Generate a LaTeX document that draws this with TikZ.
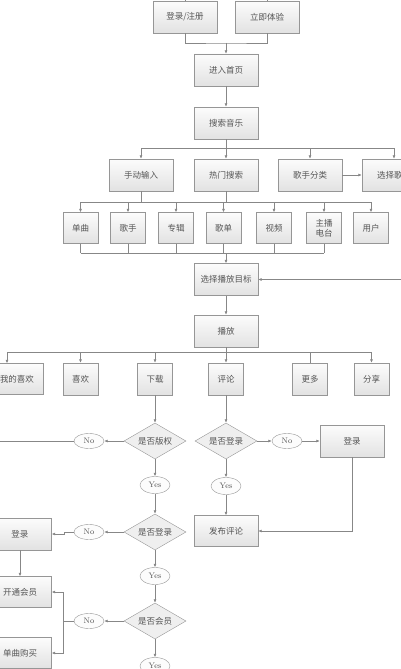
\documentclass[tikz,border=0pt]{standalone}
\usepackage{fontspec}
\usepackage{tikz}
\usetikzlibrary{arrows.meta,positioning,calc,shapes.geometric}
\newfontfamily\cjk{Noto Sans CJK SC}
\definecolor{linegray}{RGB}{135,135,135}
\definecolor{boxedge}{RGB}{150,150,150}
\definecolor{boxtop}{RGB}{252,252,252}
\definecolor{boxbottom}{RGB}{226,226,226}
\definecolor{txtgray}{RGB}{85,85,85}
\tikzset{
  flowbox/.style={draw=boxedge,top color=boxtop,bottom color=boxbottom,minimum width=64pt,minimum height=32pt,inner sep=1pt,align=center,font=\cjk\fontsize{8.5}{10}\selectfont,text=txtgray},
  smallbox/.style={flowbox,minimum width=35pt,minimum height=31pt},
  choice/.style={draw=boxedge,shape=diamond,fill=boxbottom!55,aspect=2,minimum width=62pt,minimum height=36pt,inner sep=0pt,font=\cjk\fontsize{8.5}{10}\selectfont,text=txtgray},
  answer/.style={draw=boxedge,ellipse,fill=boxtop,minimum width=30pt,minimum height=15pt,inner sep=0pt,font=\fontsize{8}{9}\selectfont,text=txtgray},
  link/.style={draw=linegray,line width=0.6pt},
  arr/.style={link,-{Latex[length=3.5pt,width=3pt]}}
}
\begin{document}
\begin{tikzpicture}[x=1pt,y=-1pt]
\useasboundingbox (0,0) rectangle (400,669);
\node[flowbox] (reg) at (185,17) {登录/注册};
\node[flowbox] (try) at (267,17) {立即体验};
\node[flowbox] (home) at (226,70) {进入首页};
\node[flowbox] (search) at (226,123) {搜索音乐};
\node[flowbox] (manual) at (141,175) {手动输入};
\node[flowbox] (hot) at (226,175) {热门搜索};
\node[flowbox] (singer) at (310,175) {歌手分类};
\node[flowbox] (pick) at (394,175) {选择歌手};
\node[smallbox] (c1) at (80.5,228) {单曲};
\node[smallbox] (c2) at (128,228) {歌手};
\node[smallbox] (c3) at (176,228) {专辑};
\node[smallbox] (c4) at (223.5,228) {歌单};
\node[smallbox] (c5) at (274,228) {视频};
\node[smallbox] (c6) at (324,228) {主播\\电台};
\node[smallbox] (c7) at (371,228) {用户};
\node[flowbox] (target) at (226,279.5) {选择播放目标};
\node[flowbox] (play) at (226,331) {播放};
\node[flowbox,minimum width=52pt,minimum height=31pt] (mine) at (17,379) {我的喜欢};
\node[smallbox,minimum height=32pt] (like) at (80.5,379) {喜欢};
\node[smallbox,minimum height=32pt] (dl) at (155,379) {下载};
\node[smallbox,minimum height=32pt] (cmt) at (226,379) {评论};
\node[smallbox,minimum height=32pt] (more) at (310,379) {更多};
\node[smallbox,minimum height=32pt] (share) at (371.5,379) {分享};
\node[choice] (dcopy) at (155,441) {是否版权};
\node[choice] (dlog) at (226,441) {是否登录};
\node[answer] (no1) at (89,441) {No};
\node[answer] (no2) at (287,441) {No};
\node[flowbox] (login2) at (352,441) {登录};
\node[answer,minimum height=17pt] (yes1) at (155,485) {Yes};
\node[answer,minimum height=17pt] (yes2) at (226,486) {Yes};
\node[flowbox,minimum height=31pt] (post) at (226,531) {发布评论};
\node[choice] (dlog2) at (155,532) {是否登录};
\node[answer] (no3) at (89,532) {No};
\node[flowbox,minimum width=63pt] (login1) at (20,534) {登录};
\node[flowbox,minimum width=63pt,minimum height=31pt] (vip) at (20,592) {开通会员};
\node[flowbox,minimum width=63pt,minimum height=31pt] (buy) at (20,653) {单曲购买};
\node[answer,minimum height=17pt] (yes3) at (155,576) {Yes};
\node[choice] (dvip) at (155,621) {是否会员};
\node[answer] (no4) at (89,621) {No};
\node[answer,minimum height=17pt] (yes4) at (155,666) {Yes};
\coordinate (regtop) at (185,-6);
\coordinate (trytop) at (267,-6);
\coordinate (j1) at (226,43);
\coordinate (j2) at (226,148);
\coordinate (j3) at (226,202);
\coordinate (j4) at (226,253);
\coordinate (back) at (406,279.5);
\coordinate (j5) at (226,352);
\coordinate (minein) at (7,352);
\coordinate (lost) at (-6,441);
\coordinate (kink) at (64,532);
\coordinate (fork) at (63,621);
\draw[link] (reg.north) -- (regtop);
\draw[link] (try.north) -- (trytop);
\draw[link] (reg.south) |- (j1) -| (try.south);
\draw[arr] (j1) -- (home);
\draw[arr] (home) -- (search);
\draw[link] (search) -- (j2);
\draw[link] (j2 -| manual) -- (j2 -| pick);
\foreach \n in {manual,hot,singer,pick}{\draw[arr] (j2 -| \n) -- (\n);}
\draw[arr] (singer) -- (pick);
\draw[link] (manual) -- (manual |- j3);
\draw[link] (hot) -- (j3);
\draw[link] (j3 -| c1) -- (j3 -| c7);
\foreach \i in {1,...,7}{\draw[arr] (j3 -| c\i) -- (c\i);}
\foreach \i in {1,...,6}{\draw[link] (c\i) -- (c\i |- j4);}
\draw[link] (j4 -| c1) -- (j4 -| c6);
\draw[arr] (j4) -- (target);
\draw[arr] (back) -- (back -| target.east);
\draw[arr] (target) -- (play);
\draw[link] (play) -- (j5);
\draw[link] (minein) -- (j5 -| share);
\draw[arr] (minein) -- (minein |- mine.north);
\foreach \n in {like,dl,cmt,share}{\draw[arr] (j5 -| \n) -- (\n);}
\draw[link] (j5 -| more) -- (more);
\foreach \a/\b in {dl/dcopy,cmt/dlog,dcopy/no1,dcopy/yes1,yes1/dlog2,dlog/no2,no2/login2,dlog/yes2,yes2/post,dlog2/no3,login1/vip,dlog2/yes3,yes3/dvip,dvip/no4,dvip/yes4}{\draw[arr] (\a) -- (\b);}
\draw[link] (no1) -- (lost);
\draw[arr] (login2) |- (post);
\draw[arr] (no3) -- (kink) |- (login1);
\draw[link] (no4) -- (fork);
\draw[arr] (fork) |- (vip);
\draw[arr] (fork) |- (buy);
\end{tikzpicture}
\end{document}
